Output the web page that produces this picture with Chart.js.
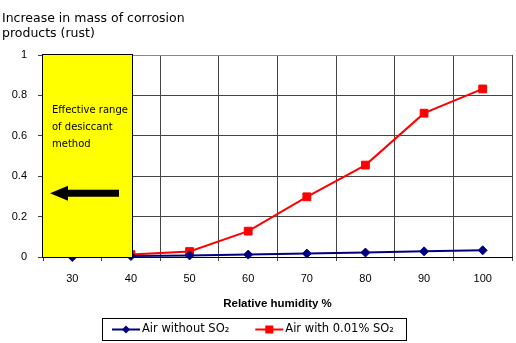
<!DOCTYPE html>
<html>
<head>
<meta charset="utf-8">
<script src="https://cdn.jsdelivr.net/npm/chart.js@4.4.1/dist/chart.umd.min.js"></script>
<style>
  html, body { margin: 0; padding: 0; background: #fff; }
</style>
</head>
<body>
<canvas id="chart" width="516" height="343"></canvas>
<script>
// values
const humidity = ['30', '40', '50', '60', '70', '80', '90', '100'];
const airWithout = [0, 0.005, 0.008, 0.012, 0.017, 0.022, 0.028, 0.033];
const airWith = [0.01, 0.012, 0.027, 0.128, 0.298, 0.455, 0.712, 0.832];
const yTicks = [0, 0.2, 0.4, 0.6, 0.8, 1];
const titleLines = ['Increase in mass of corrosion', 'products (rust)'];
const boxLines = ['Effective range', 'of desiccant', 'method'];

const FONT = '"DejaVu Sans", Verdana, sans-serif';
const ARIAL = '"Liberation Sans", Arial, sans-serif';

// yellow "desiccant" box with arrow, plus a framed legend like the original
const extras = {
  id: 'extras',
  afterDatasetsDraw(chart) {
    const { ctx, chartArea, scales: { x, y } } = chart;
    const left = chartArea.left;
    const right = x.getPixelForValue(1) + 2;
    const top = y.getPixelForValue(1);
    const bottom = y.getPixelForValue(0);
    ctx.save();
    ctx.fillStyle = '#ffff00';
    ctx.fillRect(left, top, right - left, bottom - top);
    ctx.strokeStyle = '#000';
    ctx.lineWidth = 1;
    ctx.strokeRect(Math.round(left) - 0.5, Math.round(top) - 0.5, Math.round(right - left), Math.round(bottom - top) + 1);
    ctx.fillStyle = '#000';
    ctx.font = '10px ' + FONT;
    ctx.textBaseline = 'middle';
    boxLines.forEach((t, i) => ctx.fillText(t, left + 9, top + 55 + i * 17));
    const ay = y.getPixelForValue(0.315);
    ctx.beginPath();
    ctx.moveTo(left + 7, ay);
    ctx.lineTo(left + 25, ay - 7.5);
    ctx.lineTo(left + 25, ay - 3.5);
    ctx.lineTo(left + 76, ay - 3.5);
    ctx.lineTo(left + 76, ay + 3.5);
    ctx.lineTo(left + 25, ay + 3.5);
    ctx.lineTo(left + 25, ay + 7.5);
    ctx.closePath();
    ctx.fill();
    ctx.restore();
  },
  afterDraw(chart) {
    const ctx = chart.ctx;
    const sets = chart.data.datasets;
    ctx.save();
    ctx.font = '11.5px ' + FONT;
    ctx.textBaseline = 'middle';
    const sample = 28, gapText = 2, gapItem = 26, pad = 10;
    const widths = sets.map(ds => sample + gapText + ctx.measureText(ds.label).width);
    const total = pad + widths.reduce((a, b) => a + b, 0) + gapItem * (sets.length - 1) + pad + 2;
    const boxLeft = Math.round(chart.width / 2 - 4 - total / 2);
    const boxTop = 318, boxH = 22;
    const cy = boxTop + boxH / 2 + 0.5;
    ctx.strokeStyle = '#000';
    ctx.lineWidth = 1;
    ctx.strokeRect(boxLeft + 0.5, boxTop + 0.5, Math.round(total), boxH);
    let cx = boxLeft + pad;
    sets.forEach((ds, i) => {
      const c = ds.borderColor;
      ctx.strokeStyle = c;
      ctx.fillStyle = c;
      ctx.lineWidth = 2;
      ctx.beginPath();
      ctx.moveTo(cx, cy);
      ctx.lineTo(cx + sample, cy);
      ctx.stroke();
      const mx = cx + sample / 2;
      if (ds.pointStyle === 'rectRot') {
        ctx.beginPath();
        ctx.moveTo(mx, cy - 4); ctx.lineTo(mx + 4, cy); ctx.lineTo(mx, cy + 4); ctx.lineTo(mx - 4, cy);
        ctx.closePath();
        ctx.fill();
      } else {
        ctx.fillRect(mx - 4, cy - 4, 8, 8);
      }
      ctx.fillStyle = '#000';
      ctx.fillText(ds.label, cx + sample + gapText, cy);
      cx += widths[i] + gapItem;
    });
    ctx.restore();
  }
};

new Chart(document.getElementById('chart'), {
  type: 'line',
  data: {
    labels: humidity,
    datasets: [
      {
        label: 'Air without SO\u2082',
        data: airWithout,
        borderColor: '#000080',
        backgroundColor: '#000080',
        borderWidth: 2,
        pointStyle: 'rectRot',
        pointRadius: 4.5,
        pointBorderWidth: 1,
        clip: false
      },
      {
        label: 'Air with 0.01% SO\u2082',
        data: airWith,
        borderColor: '#ff0000',
        backgroundColor: '#ff0000',
        borderWidth: 2,
        pointStyle: 'rect',
        pointRadius: 5.5,
        pointBorderWidth: 1,
        clip: 0
      }
    ]
  },
  options: {
    responsive: false,
    devicePixelRatio: 1,
    animation: false,
    layout: { autoPadding: false, padding: { left: 2, right: 4, top: 0, bottom: 27 } },
    plugins: {
      title: {
        display: true,
        text: titleLines,
        align: 'start',
        color: '#000',
        font: { family: FONT, size: 12.5, weight: 'normal', lineHeight: 1.2 },
        padding: { top: 11, bottom: 14 }
      },
      legend: { display: false },
      tooltip: { enabled: false }
    },
    scales: {
      x: {
        offset: true,
        afterFit(scale) { scale.height = 59; },
        grid: {
          offset: true,
          color: '#444',
          tickColor: '#444',
          tickLength: 4
        },
        border: { color: '#000' },
        ticks: {
          color: '#000',
          padding: 11,
          font: { family: ARIAL, size: 11 }
        },
        title: {
          display: true,
          text: 'Relative humidity %',
          color: '#000',
          font: { family: ARIAL, size: 11.5, weight: 'bold' },
          padding: { top: 12, bottom: 5.5 }
        }
      },
      y: {
        min: 0,
        max: 1,
        afterFit(scale) { scale.width = 41; },
        afterBuildTicks(scale) { scale.ticks = yTicks.map(v => ({ value: v })); },
        grid: {
          color: ctx => (ctx.tick && ctx.tick.value === 1 ? '#888' : '#444'),
          tickColor: '#444',
          tickLength: 5
        },
        border: { color: '#000' },
        ticks: {
          color: '#000',
          padding: 11,
          font: { family: ARIAL, size: 11 },
          callback: v => String(v)
        }
      }
    }
  },
  plugins: [extras]
});
</script>
</body>
</html>
